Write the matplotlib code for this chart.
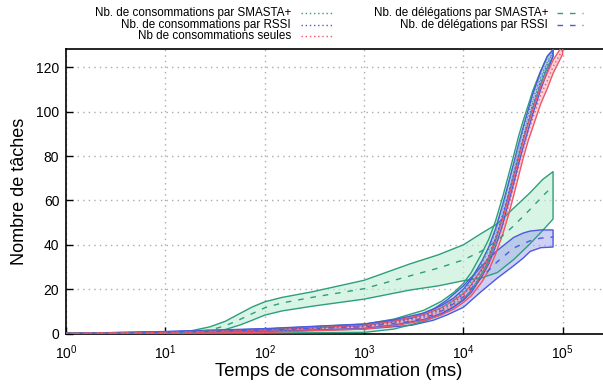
import matplotlib
matplotlib.use("Agg")
import matplotlib.pyplot as plt
from matplotlib.lines import Line2D

plt.rcParams['font.family'] = ['Liberation Sans', 'DejaVu Sans']
plt.rcParams['mathtext.fontset'] = 'custom'
plt.rcParams['mathtext.rm'] = 'Liberation Sans'

# ---------------- data ----------------
x_cons = [1, 10, 100, 1000, 2000, 4000, 6000, 8000, 10000, 12000, 13500, 15500, 18000,
          21000, 25000, 28500, 32000, 36000, 40000, 45000, 50000, 60000, 70000, 80000]
x_red = x_cons + [100000]

green_cons_mean = [0, 0.4, 1.2, 3.0, 5.0, 8.2, 11.5, 15, 19, 23.5, 27.5, 32, 38, 46, 57.5, 67,
                   75.5, 84.5, 91.5, 99, 105.5, 115.5, 122.5, 127]
green_cons_low = [0, 0.1, 0.2, 0.5, 2.0, 5.5, 8.5, 12, 15.5, 19.5, 23, 27.5, 33, 41.5, 53, 62.5,
                  71, 80, 87.5, 95, 102, 112.5, 120, 125]
green_cons_high = [0, 0.6, 2.0, 4.2, 6.5, 10.5, 14.5, 18.5, 22.6, 27.5, 31.7, 36.5, 42.5, 50.5,
                   62, 71.5, 80, 89, 96, 103, 109.5, 118.5, 125, 128]

blue_cons_mean = [0, 0.5, 1.5, 3.3, 5.0, 7.8, 10.8, 14, 17.5, 21.5, 25, 29, 35, 43, 54, 63.5,
                  72, 81, 88.5, 96.5, 103.5, 114, 121.5, 127]
blue_cons_low = [0, 0.2, 0.8, 2.3, 3.8, 6.3, 9.0, 12, 15.0, 18.5, 22, 26, 31.5, 39, 49.5, 59,
                 67.5, 76.5, 84, 92, 99, 110, 118, 125]
blue_cons_high = [0, 0.9, 2.2, 4.3, 6.2, 9.2, 12.6, 16, 20, 24.5, 28.5, 33, 39, 47, 58.5, 68,
                  76.5, 85.5, 93, 101, 108, 118, 125, 128]

red_cons_mean = [0, 0.3, 1.0, 2.8, 4.5, 7.2, 10.0, 13, 16.0, 19.5, 22.5, 26.5, 31.5, 39, 48.5,
                 57.5, 66, 75, 83, 91, 97, 107.5, 114, 120.3, 128]
red_cons_low = [0, 0.1, 0.5, 2.0, 3.5, 5.9, 8.4, 11, 14.0, 17, 20, 23.5, 28.5, 35.5, 45, 53.5,
                62, 71, 79, 87, 93, 103.5, 110.5, 117.3, 126]
red_cons_high = [0, 0.5, 1.5, 3.6, 5.5, 8.5, 11.6, 15, 18.0, 22, 25.5, 29.5, 34.5, 42.5, 52,
                 61.5, 70, 79, 87, 95, 101, 111.5, 117.5, 123.3, 130]

x_deleg_green = [1, 10, 18, 28, 40, 56, 75, 100, 150, 300, 1000, 2900, 5600, 10000, 15000,
                 22000, 32000, 47000, 63000, 80000]
green_deleg_low = [0, 0.2, 0.4, 0.5, 1.8, 3.8, 6, 8.3, 10.2, 12.3, 15.5, 19.6, 21.5, 23.8, 25,
                   27.5, 33.3, 40.5, 46.5, 51.6]
green_deleg_mean = [0, 0.3, 0.8, 1.5, 3.5, 6.3, 9, 11.6, 13.8, 16.3, 20.2, 26, 29.5, 33.2, 37,
                    42, 48.5, 56, 62, 66.6]
green_deleg_high = [0, 0.5, 1.2, 3, 5.5, 9, 12, 14.3, 16.3, 18.8, 24, 31.4, 35.5, 40, 45, 49.5,
                    56.5, 63.5, 69.5, 73]

x_deleg_blue = [1, 10, 100, 1000, 3000, 5000, 6800, 10000, 15000, 22000, 32000, 40000, 47000,
                60000, 80000]
blue_deleg_low = [0, 0.3, 1, 2, 3.7, 6, 8.3, 11.8, 18.8, 25, 30.5, 34, 37, 38.7, 39]
blue_deleg_mean = [0, 0.5, 1.5, 3, 5.5, 8.5, 11.3, 16.5, 25, 32.4, 38.5, 40.5, 41.8, 43, 43.5]
blue_deleg_high = [0, 0.8, 2, 4, 7, 11, 15, 21.5, 30, 37.5, 43.3, 45.3, 46.2, 46.7, 46.7]

labels_left = ["Nb. de consommations par SMASTA+",
               "Nb. de consommations par RSSI",
               "Nb de consommations seules"]
labels_right = ["Nb. de délégations par SMASTA+",
                "Nb. de délégations par RSSI"]

GREEN = '#2e9e7e'
GREEN_F = '#bfeed5'
BLUE = '#4b5ae0'
BLUE_F = '#9ea3ef'
RED = '#ee5566'
RED_F = '#f7a9b3'

# ---------------- figure ----------------
W, H = 603.0, 384.0
fig = plt.figure(figsize=(6.03, 3.84), dpi=100)
ax = fig.add_axes([66.2 / W, 1 - 333.5 / H, 1 - 66.2 / W, (333.5 - 49) / H])
ax.set_xscale('log')
ax.set_xlim(1, 10 ** 5.406)
ax.set_ylim(0, 128.3)


def band(x, lo, hi, mean, col, fcol, falpha, ls):
    ax.fill_between(x, lo, hi, facecolor=fcol, alpha=falpha, edgecolor='none', zorder=2)
    ax.fill_between(x, lo, hi, facecolor='none', edgecolor=col, linewidth=1.0, zorder=3)
    ax.plot(x, mean, color=col, lw=1.0, ls=ls, zorder=4)


band(x_deleg_green, green_deleg_low, green_deleg_high, green_deleg_mean, GREEN, GREEN_F, 0.6, (0, (4, 5)))
band(x_deleg_blue, blue_deleg_low, blue_deleg_high, blue_deleg_mean, BLUE, BLUE_F, 0.5, (0, (4, 5)))
band(x_cons, green_cons_low, green_cons_high, green_cons_mean, GREEN, GREEN_F, 0.6, (0, (1, 2)))
band(x_cons, blue_cons_low, blue_cons_high, blue_cons_mean, BLUE, BLUE_F, 0.5, (0, (1, 2)))
band(x_red, red_cons_low, red_cons_high, red_cons_mean, RED, RED_F, 0.5, (0, (1, 2)))

ax.set_yticks([0, 20, 40, 60, 80, 100, 120])
ax.set_xticks([1, 10, 100, 1000, 10000, 100000])
ax.xaxis.set_minor_locator(matplotlib.ticker.NullLocator())
ax.tick_params(axis='both', which='major', direction='in', length=5, width=1,
               labelsize=10, colors='black')
ax.tick_params(axis='x', pad=7)
ax.tick_params(axis='y', pad=5)
ax.grid(True, which='major', color='#aaaaaa', ls=(0, (1, 3)), lw=1.0)
ax.set_axisbelow(True)
for s in ax.spines.values():
    s.set_linewidth(1.2)
ax.spines['right'].set_visible(False)

ax.set_ylabel('Nombre de tâches', fontsize=13, labelpad=6)
fig.text(339 / W, 1 - 371 / H, 'Temps de consommation (ms)', ha='center', va='center',
         fontsize=13.3)

# ---------------- legend (gnuplot style) ----------------
rows_y = [12.8, 24.9, 36.4]
left_styles = [(GREEN, (0, (1, 2))), (BLUE, (0, (1, 2))), (RED, (0, (1, 2)))]
right_styles = [(GREEN, (0, (4, 5))), (BLUE, (0, (4, 5)))]
for lab, (c, ls), yy in zip(labels_left, left_styles, rows_y):
    fig.text(291 / W, 1 - yy / H, lab, ha='right', va='center', fontsize=8.4)
    fig.add_artist(Line2D([301 / W, 334 / W], [1 - yy / H, 1 - yy / H], color=c, ls=ls, lw=1.0))
for lab, (c, ls), yy in zip(labels_right, right_styles, rows_y):
    fig.text(548 / W, 1 - yy / H, lab, ha='right', va='center', fontsize=8.4)
    fig.add_artist(Line2D([557 / W, 583 / W], [1 - yy / H, 1 - yy / H], color=c, ls=ls, lw=1.0))

fig.savefig('out.png', dpi=100)
